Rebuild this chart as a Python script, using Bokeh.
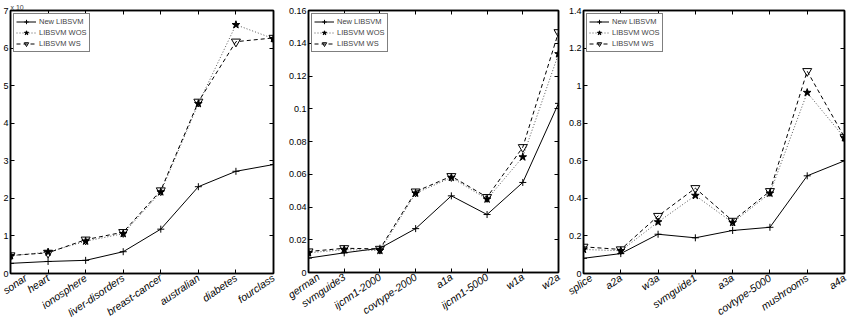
from bokeh.plotting import figure
from bokeh.layouts import row
from bokeh.models import (Range1d, FixedTicker, LinearAxis, CustomJSTickFormatter,
                          Legend)
from bokeh.embed import file_html
from bokeh.resources import INLINE

# ---------------- data ----------------
cats1 = ["sonar", "heart", "ionosphere", "liver-disorders", "breast-cancer",
         "australian", "diabetes", "fourclass"]
new1 = [0.27, 0.32, 0.35, 0.58, 1.18, 2.31, 2.72, 2.90]
wos1 = [0.47, 0.57, 0.86, 1.06, 2.17, 4.52, 6.62, 6.25]
ws1 = [0.48, 0.55, 0.90, 1.10, 2.21, 4.57, 6.17, 6.27]
yticks1 = [0, 1, 2, 3, 4, 5, 6, 7]

cats2 = ["german", "svmguide3", "ijcnn1-2000", "covtype-2000", "a1a",
         "ijcnn1-5000", "w1a", "w2a"]
new2 = [0.0088, 0.0120, 0.0148, 0.0268, 0.0468, 0.0354, 0.0550, 0.1033]
wos2 = [0.0120, 0.0140, 0.0134, 0.0484, 0.0580, 0.0448, 0.0705, 0.1335]
ws2 = [0.0128, 0.0148, 0.0144, 0.0494, 0.0588, 0.0460, 0.0765, 0.1467]
yticks2 = [0, 0.02, 0.04, 0.06, 0.08, 0.1, 0.12, 0.14, 0.16]

cats3 = ["splice", "a2a", "w3a", "svmguide1", "a3a", "covtype-5000",
         "mushrooms", "a4a"]
new3 = [0.081, 0.106, 0.209, 0.190, 0.229, 0.246, 0.520, 0.600]
wos3 = [0.128, 0.121, 0.274, 0.415, 0.271, 0.427, 0.963, 0.722]
ws3 = [0.142, 0.128, 0.306, 0.454, 0.280, 0.438, 1.077, 0.725]
yticks3 = [0, 0.2, 0.4, 0.6, 0.8, 1.0, 1.2, 1.4]

series_names = ["New LIBSVM", "LIBSVM WOS", "LIBSVM WS"]

FONT = "Liberation Sans"

num_fmt = CustomJSTickFormatter(code="return Number(tick.toFixed(4)).toString();")
blank_fmt = CustomJSTickFormatter(code="return '';")


def make_panel(cats, new, wos, ws, yticks, width, bl, br, bt, exponent=None):
    xs = list(range(1, len(cats) + 1))
    p = figure(width=width, height=318, frame_height=263 - (bt - 9),
               output_backend="svg", toolbar_location=None,
               x_range=Range1d(xs[0], xs[-1]), y_range=Range1d(yticks[0], yticks[-1]),
               min_border_left=bl, min_border_right=br, min_border_top=bt,
               min_border_bottom=40)
    p.grid.visible = False
    p.outline_line_color = "black"
    p.outline_line_width = 1.5
    p.background_fill_color = "white"
    p.border_fill_color = "white"

    if exponent:
        p.title.text = exponent
        p.title.text_font = FONT
        p.title.text_font_size = "7px"
        p.title.text_font_style = "normal"
        p.title.standoff = 0
        p.title.offset = 0
        p.title.align = "left"

    xa = p.xaxis[0]
    xa.ticker = FixedTicker(ticks=xs)
    xa.major_label_overrides = {x: c for x, c in zip(xs, cats)}
    xa.major_label_orientation = 0.6
    xa.major_label_text_font = FONT
    xa.major_label_text_font_style = "italic"
    xa.major_label_text_font_size = "10.5px"
    xa.major_label_standoff = 3
    ya = p.yaxis[0]
    ya.ticker = FixedTicker(ticks=yticks)
    ya.formatter = num_fmt
    ya.major_label_text_font = FONT
    ya.major_label_text_font_size = "9px"
    ya.major_label_standoff = 2
    for ax in (xa, ya):
        ax.major_tick_in = 4
        ax.major_tick_out = 0
        ax.minor_tick_line_color = None
        ax.axis_line_color = "black"
        ax.axis_line_width = 1.5
        ax.major_tick_line_color = "black"
        ax.major_label_text_color = "black"

    top = LinearAxis(ticker=FixedTicker(ticks=xs), formatter=blank_fmt,
                     major_tick_in=4, major_tick_out=0, minor_tick_line_color=None,
                     major_label_standoff=0, axis_line_width=1.5)
    right = LinearAxis(ticker=FixedTicker(ticks=yticks), formatter=blank_fmt,
                       major_tick_in=4, major_tick_out=0, minor_tick_line_color=None,
                       major_label_standoff=0, axis_line_width=1.5)
    p.add_layout(top, "above")
    p.add_layout(right, "right")

    r1 = p.line(xs, new, line_color="black", line_width=1)
    m1 = p.scatter(xs, new, marker="cross", size=7, line_color="black", line_width=1)
    r2 = p.line(xs, wos, line_color="#555555", line_width=1, line_dash="1 2")
    m2 = p.scatter(xs, wos, marker="star", size=8, line_color="black",
                   fill_color="black", line_width=1)
    r3 = p.line(xs, ws, line_color="black", line_width=1, line_dash="4 3")
    m3 = p.scatter(xs, ws, marker="inverted_triangle", size=9, line_color="black",
                   fill_color=None, line_width=1)

    legend = Legend(items=[(series_names[0], [r1, m1]), (series_names[1], [r2, m2]),
                           (series_names[2], [r3, m3])],
                    location="top_left", margin=3, padding=2, spacing=0,
                    label_height=11, glyph_height=11, glyph_width=20,
                    label_standoff=3, label_text_font=FONT, label_text_font_size="7.5px",
                    border_line_color="black", border_line_width=1.5,
                    background_fill_alpha=1.0)
    p.add_layout(legend, "center")
    return p


p1 = make_panel(cats1, new1, wos1, ws1, yticks1, 285, 10, 12, 9, exponent="x 10")
p2 = make_panel(cats2, new2, wos2, ws2, yticks2, 280, 17, 7, 10)
p3 = make_panel(cats3, new3, wos3, ws3, yticks3, 285, 18, 6, 9)

layout = row(p1, p2, p3)
open("out.html", "w").write(file_html(layout, INLINE))
